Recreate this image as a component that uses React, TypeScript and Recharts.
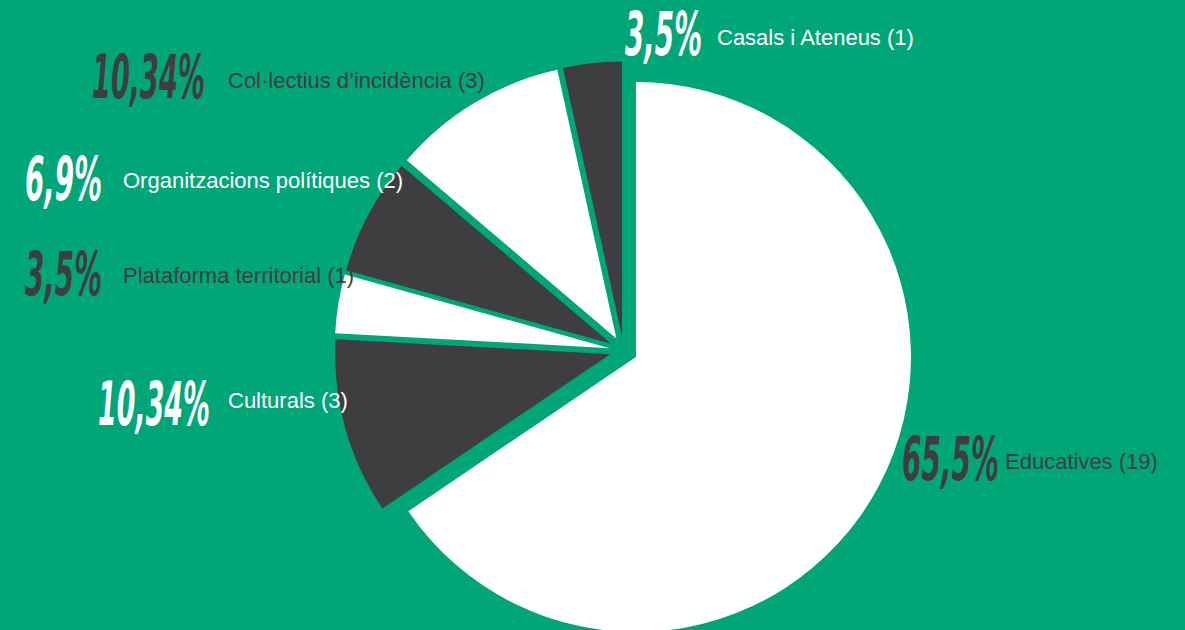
import { PieChart, Pie, Cell } from "recharts";

// slices, clockwise from 12 o'clock
const CATEGORIES = [
  "Educatives",
  "Culturals",
  "Plataforma territorial",
  "Organitzacions polítiques",
  "Col·lectius d’incidència",
  "Casals i Ateneus",
];
const COUNTS = [19, 3, 1, 2, 3, 1];
const PERCENT_LABELS = ["65,5%", "10,34%", "3,5%", "6,9%", "10,34%", "3,5%"];

const GREEN = "#00A677";
const DARK = "#3E3E40";
const WHITE = "#FFFFFF";
const SLICE_FILLS = [WHITE, DARK, WHITE, DARK, WHITE, DARK];
const LABEL_COLORS = [DARK, WHITE, DARK, WHITE, DARK, WHITE];

const CX = 623.6;
const CY = 350.4;
const RADIUS = 275;
const EXPLODE = 14;

// where each label sits: number x, number baseline, number width, name x, name baseline
const LABEL_POS = [
  [902, 480, 97, 1005, 469],
  [98, 425, 112, 228, 408],
  [25, 295, 77, 123, 283],
  [25, 200, 77, 123, 188],
  [92, 98, 113, 228, 88],
  [625, 55, 77, 717, 45],
];

const rows = CATEGORIES.map((name, i) => ({ name, value: COUNTS[i] }));
const total = COUNTS.reduce((a, b) => a + b, 0);

// each slice pushed out along its bisector
let acc = 0;
const offsets = COUNTS.map((v) => {
  const mid = 90 - (360 * (acc + v / 2)) / total;
  acc += v;
  const rad = (mid * Math.PI) / 180;
  return { dx: EXPLODE * Math.cos(rad), dy: -EXPLODE * Math.sin(rad) };
});

const renderLabel = (props: any) => {
  const i = props.index;
  const [nx, ny, nw, tx, ty] = LABEL_POS[i];
  const color = LABEL_COLORS[i];
  return (
    <g key={`lbl-${i}`}>
      <text
        x={nx}
        y={ny}
        fill={color}
        fontFamily="'DejaVu Sans Condensed', 'DejaVu Sans', sans-serif"
        fontWeight="bold"
        fontStyle="italic"
        fontSize={60}
        textLength={nw}
        lengthAdjust="spacingAndGlyphs"
      >
        {PERCENT_LABELS[i]}
      </text>
      <text
        x={tx}
        y={ty}
        fill={color}
        fontFamily="'Liberation Sans', Arial, sans-serif"
        fontSize={22}
      >
        {`${rows[i].name} (${rows[i].value})`}
      </text>
    </g>
  );
};

export default function App() {
  return (
    <div
      style={{
        position: "absolute",
        left: 0,
        top: 0,
        width: 1185,
        height: 630,
        background: GREEN,
        overflow: "hidden",
      }}
    >
      <PieChart width={1185} height={630} margin={{ top: 0, right: 0, bottom: 0, left: 0 }}>
        {rows.map((_, i) => (
          <Pie
            key={i}
            data={rows}
            dataKey="value"
            nameKey="name"
            cx={CX + offsets[i].dx}
            cy={CY + offsets[i].dy}
            outerRadius={RADIUS}
            startAngle={90}
            endAngle={-270}
            stroke="none"
            isAnimationActive={false}
            labelLine={false}
            label={i === rows.length - 1 ? renderLabel : false}
          >
            {rows.map((_, j) => (
              <Cell key={j} fill={j === i ? SLICE_FILLS[j] : "transparent"} />
            ))}
          </Pie>
        ))}
      </PieChart>
    </div>
  );
}
